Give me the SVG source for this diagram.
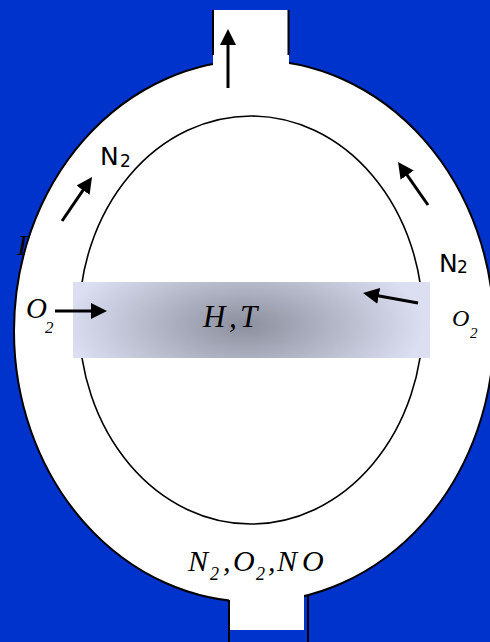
<svg xmlns="http://www.w3.org/2000/svg" width="490" height="642" viewBox="0 0 490 642">
<defs>
<radialGradient id="band" gradientUnits="userSpaceOnUse" cx="0" cy="0" r="1" gradientTransform="translate(245 325) scale(180 80)">
<stop offset="0" stop-color="#8C8F9D"/>
<stop offset="1" stop-color="#DCDFF2"/>
</radialGradient>
<marker id="ah" viewBox="0 0 16 16" refX="8" refY="8" markerWidth="16" markerHeight="16" markerUnits="userSpaceOnUse" orient="auto">
<path d="M0,0 L16,8 L0,16 Z" fill="#000"/>
</marker>
<style>
.edge{fill:none;stroke:#000;stroke-width:3;marker-end:url(#ah)}
.ln{stroke:#000;stroke-width:2;fill:none}
.sans{font-family:"DejaVu Sans","Liberation Sans",sans-serif;fill:#000}
.it{font-family:"Liberation Serif","Times New Roman",serif;font-style:italic;fill:#000}
</style>
</defs>
<rect x="0" y="0" width="490" height="642" fill="#0033CC"/>
<g id="vessel">
<ellipse cx="254" cy="331" rx="240" ry="271" fill="#fff" stroke="#000" stroke-width="2"/>
<rect x="213" y="10" width="76" height="62" fill="#fff"/>
<line class="ln" x1="213" y1="10" x2="213" y2="55"/>
<line class="ln" x1="288.5" y1="10" x2="288.5" y2="55"/>
<rect x="229" y="588" width="75" height="42" fill="#fff"/>
<line class="ln" x1="229" y1="600" x2="229" y2="642"/>
<line class="ln" x1="308" y1="596" x2="308" y2="642"/>
</g>
<g id="inner">
<ellipse cx="251" cy="320" rx="172" ry="204" fill="none" stroke="#000" stroke-width="1.6"/>
</g>
<g id="zone">
<rect x="73" y="282" width="357" height="76" fill="url(#band)"/>
<text class="it" font-size="31"><tspan x="203" y="327">H</tspan><tspan x="229" y="327">,</tspan><tspan x="240" y="327">T</tspan></text>
</g>
<g id="labels">
<text class="sans" font-size="25" x="100" y="165">N<tspan font-size="17" x="120" y="167">2</tspan></text>
<text class="sans" font-size="25" x="439" y="272">N<tspan font-size="17" x="457" y="273">2</tspan></text>
<text class="it" font-size="30" x="17" y="255">I</text>
<text class="it" font-size="29" x="26" y="318">O<tspan font-size="17" x="45" y="333">2</tspan></text>
<text class="it" font-size="24" x="452" y="326">O<tspan font-size="15" x="470" y="338">2</tspan></text>
<text class="it" font-size="30"><tspan x="188" y="571">N</tspan><tspan font-size="18" x="210" y="580">2</tspan><tspan x="223" y="571">,</tspan><tspan x="233" y="571">O</tspan><tspan font-size="18" x="256" y="580">2</tspan><tspan x="268" y="571">,</tspan><tspan x="277" y="571">N</tspan><tspan x="302" y="571">O</tspan></text>
</g>
<g id="connectors">
<line class="edge" x1="228" y1="88" x2="228" y2="37"/>
<line class="edge" x1="62" y1="221" x2="87.5" y2="183.6"/>
<line class="edge" x1="428" y1="205" x2="402.6" y2="168.6"/>
<line class="edge" x1="55" y1="311" x2="99" y2="311"/>
<line class="edge" x1="418" y1="303" x2="370.9" y2="294.4"/>
</g>
</svg>
